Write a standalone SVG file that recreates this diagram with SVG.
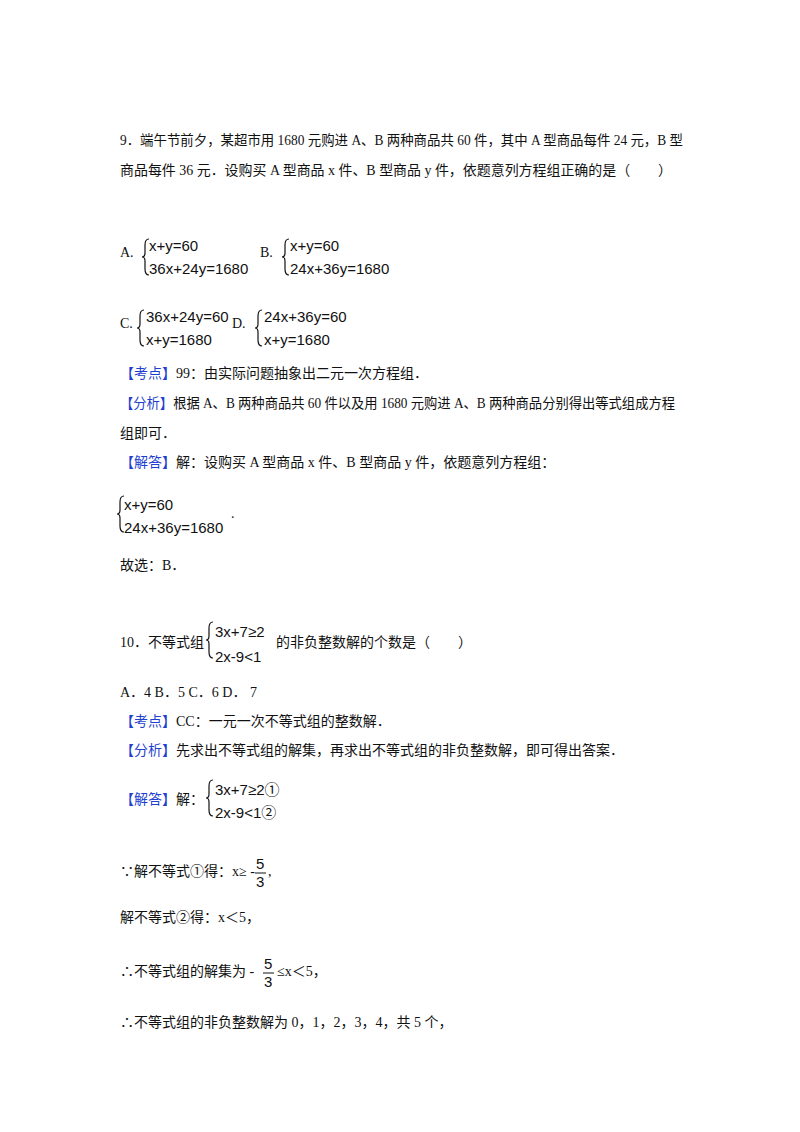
<svg xmlns="http://www.w3.org/2000/svg" width="800" height="1132" viewBox="0 0 800 1132">
<style>
text{font-family:"Liberation Serif","Noto Sans CJK SC",serif;font-size:14px;fill:#111}
.m{font-family:"Liberation Sans","Noto Sans CJK SC",sans-serif;font-size:15px}
.b{fill:#1f3fcf}
.br{fill:none;stroke:#111;stroke-width:1.2}
</style>
<rect width="800" height="1132" fill="#fff"/>
<text x="120" y="145" textLength="563" lengthAdjust="spacingAndGlyphs">9．端午节前夕，某超市用 1680 元购进 A、B 两种商品共 60 件，其中 A 型商品每件 24 元，B 型</text>
<text x="120" y="175" textLength="552" lengthAdjust="spacingAndGlyphs">商品每件 36 元．设购买 A 型商品 x 件、B 型商品 y 件，依题意列方程组正确的是（　　）</text>
<text x="120" y="257">A.</text>
<path class="br" d="M149,239 q-4,0 -4,6 v8 q0,4 -3,4 q3,0 3,4 v8 q0,6 4,6"/>
<text class="m" x="149" y="251">x+y=60</text>
<text class="m" x="149" y="274">36x+24y=1680</text>
<text x="260" y="257">B.</text>
<path class="br" d="M289,239 q-4,0 -4,6 v8 q0,4 -3,4 q3,0 3,4 v8 q0,6 4,6"/>
<text class="m" x="290" y="251">x+y=60</text>
<text class="m" x="290" y="274">24x+36y=1680</text>
<text x="120" y="328">C.</text>
<path class="br" d="M144,310 q-4,0 -4,6 v8 q0,4 -3,4 q3,0 3,4 v8 q0,6 4,6"/>
<text class="m" x="146" y="322">36x+24y=60</text>
<text class="m" x="146" y="345">x+y=1680</text>
<text x="232" y="328">D.</text>
<path class="br" d="M262,310 q-4,0 -4,6 v8 q0,4 -3,4 q3,0 3,4 v8 q0,6 4,6"/>
<text class="m" x="264" y="322">24x+36y=60</text>
<text class="m" x="264" y="345">x+y=1680</text>
<text x="120" y="378"><tspan class="b">【考点】</tspan>99：由实际问题抽象出二元一次方程组．</text>
<text x="120" y="408" textLength="555" lengthAdjust="spacingAndGlyphs"><tspan class="b">【分析】</tspan>根据 A、B 两种商品共 60 件以及用 1680 元购进 A、B 两种商品分别得出等式组成方程</text>
<text x="120" y="438">组即可．</text>
<text x="120" y="467"><tspan class="b">【解答】</tspan>解：设购买 A 型商品 x 件、B 型商品 y 件，依题意列方程组：</text>
<path class="br" d="M124,496 q-4,0 -4,6 v8 q0,4 -3,4 q3,0 3,4 v8 q0,6 4,6"/>
<text class="m" x="124" y="510">x+y=60</text>
<text class="m" x="124" y="533">24x+36y=1680</text>
<text x="231" y="518">.</text>
<text x="120" y="570">故选：B．</text>
<text x="120" y="647">10．不等式组</text>
<path class="br" d="M213,622 q-4,0 -4,6 v8 q0,4 -3,4 q3,0 3,4 v8 q0,6 4,6"/>
<text class="m" x="215" y="637">3x+7≥2</text>
<text class="m" x="215" y="662">2x-9&lt;1</text>
<text x="276" y="647">的非负整数解的个数是（　　）</text>
<text x="120" y="697">A．4 B．5 C．6 D． 7</text>
<text x="120" y="726"><tspan class="b">【考点】</tspan>CC：一元一次不等式组的整数解．</text>
<text x="120" y="755"><tspan class="b">【分析】</tspan>先求出不等式组的解集，再求出不等式组的非负整数解，即可得出答案．</text>
<text x="120" y="804"><tspan class="b">【解答】</tspan>解：</text>
<path class="br" d="M213,780 q-4,0 -4,6 v8 q0,4 -3,4 q3,0 3,4 v8 q0,6 4,6"/>
<text class="m" x="215" y="795">3x+7≥2①</text>
<text class="m" x="215" y="818">2x-9&lt;1②</text>
<text x="120" y="876">∵解不等式①得：x≥ -</text>
<text class="m" x="256" y="869">5</text>
<line x1="255" y1="873" x2="266" y2="873" stroke="#111"/>
<text class="m" x="256" y="887">3</text>
<text x="268" y="876">,</text>
<text x="120" y="922">解不等式②得：x＜5，</text>
<text x="120" y="976">∴不等式组的解集为 -</text>
<text class="m" x="264" y="969">5</text>
<line x1="263" y1="973" x2="274" y2="973" stroke="#111"/>
<text class="m" x="264" y="987">3</text>
<text x="277" y="976">≤x＜5，</text>
<text x="120" y="1027">∴不等式组的非负整数解为 0，1，2，3，4，共 5 个，</text>
</svg>
